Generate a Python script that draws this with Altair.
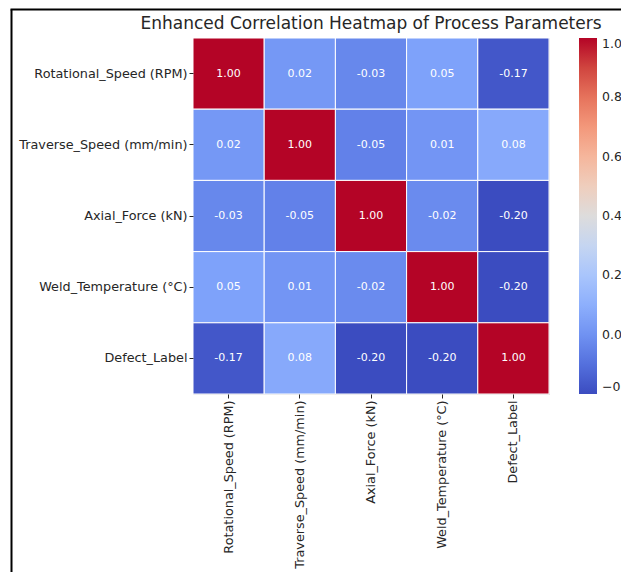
import altair as alt
import pandas as pd

title_text = "Enhanced Correlation Heatmap of Process Parameters"
labels = ["Rotational_Speed (RPM)", "Traverse_Speed (mm/min)", "Axial_Force (kN)",
          "Weld_Temperature (°C)", "Defect_Label"]
row_rot = [1.00, 0.02, -0.03, 0.05, -0.17]
row_trav = [0.02, 1.00, -0.05, 0.01, 0.08]
row_axial = [-0.03, -0.05, 1.00, -0.02, -0.20]
row_weld = [0.05, 0.01, -0.02, 1.00, -0.20]
row_defect = [-0.17, 0.08, -0.20, -0.20, 1.00]
rows = [row_rot, row_trav, row_axial, row_weld, row_defect]

coolwarm = ["#3b4cc0", "#5977e3", "#7b9ff9", "#9ebeff", "#c0d4f5", "#dddcdc",
            "#f2cbb7", "#f7ac8e", "#ee8468", "#d65244", "#b40426"]
vmin, vmax = -0.20, 1.00
cb_ticks = [-0.2, 0.0, 0.2, 0.4, 0.6, 0.8, 1.0]

records = []
for i, r in enumerate(labels):
    for j, c in enumerate(labels):
        v = rows[i][j]
        records.append({"row": r, "col": c, "value": v, "label": f"{v:.2f}"})
df = pd.DataFrame(records)

dom = [vmin + k * (vmax - vmin) / (len(coolwarm) - 1) for k in range(len(coolwarm))]

W = H = 356

x = alt.X("col:N", sort=labels, title=None,
          axis=alt.Axis(labelAngle=-90, domain=False, ticks=True, tickSize=4,
                        labelPadding=2, labelFontSize=12.8, labelColor="#262626",
                        tickColor="#262626", labelFont="DejaVu Sans"))
y = alt.Y("row:N", sort=labels, title=None,
          axis=alt.Axis(domain=False, ticks=True, tickSize=4, labelPadding=2,
                        labelFontSize=12.8, labelColor="#262626", tickColor="#262626",
                        labelFont="DejaVu Sans"))

base = alt.Chart(df)
rect = base.mark_rect(stroke="white", strokeWidth=1).encode(
    x=x, y=y,
    color=alt.Color("value:Q",
                    scale=alt.Scale(domain=dom, range=coolwarm, interpolate="rgb"),
                    legend=alt.Legend(title=None, orient="none", legendX=386, legendY=0,
                                      direction="vertical", gradientLength=H,
                                      gradientThickness=18, values=cb_ticks,
                                      format=".1f", labelFontSize=12.5,
                                      labelColor="#262626", labelFont="DejaVu Sans",
                                      labelOffset=5, labelBaseline="middle",
                                      gradientStrokeWidth=0))
)
text = base.mark_text(color="white", fontSize=11, font="DejaVu Sans").encode(
    x=x, y=y, text="label:N")

one = alt.Data(values=[{"k": 1}])
title_mark = alt.Chart(one).mark_text(
    fontSize=17, font="DejaVu Sans", color="#262626", align="center", baseline="bottom"
).encode(x=alt.value(W / 2), y=alt.value(-5.5), text=alt.value(title_text))

frame_left = alt.Chart(one).mark_rule(color="black", strokeWidth=2).encode(
    x=alt.value(-181.5), y=alt.value(-28.5), y2=alt.value(600))
frame_top = alt.Chart(one).mark_rule(color="black", strokeWidth=2).encode(
    x=alt.value(-182.5), x2=alt.value(700), y=alt.value(-28.5))

chart = alt.layer(rect, text, title_mark, frame_left, frame_top).properties(
    width=W, height=H,
    autosize=alt.AutoSizeParams(type="none"),
    padding={"left": 185, "top": 30, "right": 72, "bottom": 178},
).configure_view(stroke=None).configure(background="white")

chart.save("out.html", embed_options={"renderer": "svg", "actions": False})
